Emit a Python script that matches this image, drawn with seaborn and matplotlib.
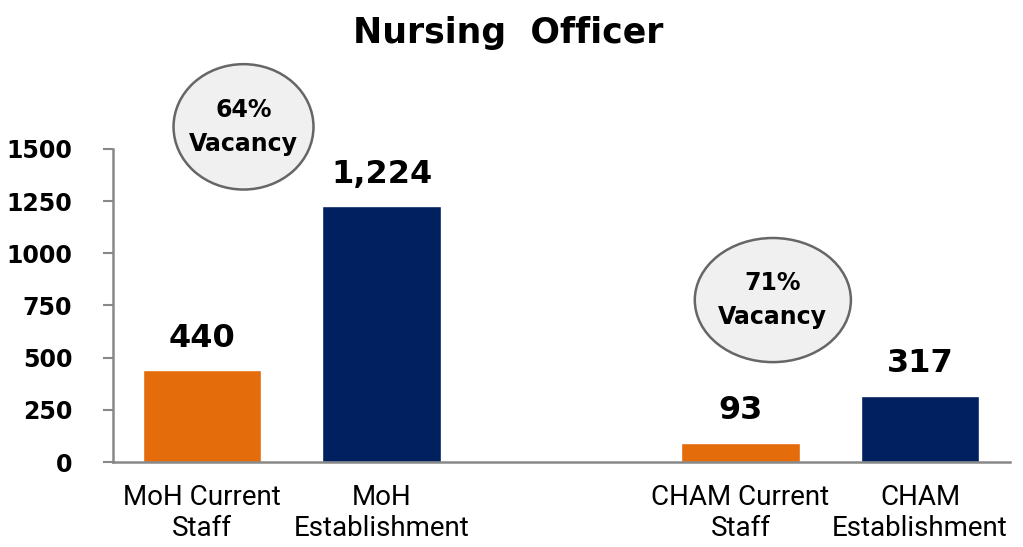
import matplotlib.pyplot as plt
import pandas as pd
import seaborn as sns
from matplotlib.patches import Ellipse

categories = ["MoH Current\nStaff", "MoH\nEstablishment", "CHAM Current\nStaff", "CHAM\nEstablishment"]
staff_values = [440, 1224, 93, 317]
kinds = ["Current", "Establishment", "Current", "Establishment"]
slot_order = ["MoH Current\nStaff", "MoH\nEstablishment", " ", "CHAM Current\nStaff", "CHAM\nEstablishment"]
vacancy_labels = ["64%\nVacancy", "71%\nVacancy"]
y_ticks = [0, 250, 500, 750, 1000, 1250, 1500]

ORANGE = "#e46c0a"
NAVY = "#002060"


def main() -> None:
    sns.set_style("white")
    plt.rcParams["font.family"] = ["DejaVu Sans"]
    plt.rcParams["text.color"] = "black"
    plt.rcParams["xtick.color"] = "black"
    plt.rcParams["ytick.color"] = "black"

    df = pd.DataFrame({"category": categories, "value": staff_values, "kind": kinds})

    fig = plt.figure(figsize=(10.23, 5.47), dpi=100)
    ax = fig.add_axes([0.110, 0.155, 0.877, 0.573])

    sns.barplot(
        data=df,
        x="category",
        y="value",
        hue="kind",
        order=slot_order,
        palette={"Current": ORANGE, "Establishment": NAVY},
        saturation=1,
        dodge=False,
        width=0.66,
        legend=False,
        ax=ax,
    )

    for cat, val in zip(categories, staff_values):
        ax.annotate(
            f"{val:,}",
            (slot_order.index(cat), val),
            xytext=(0, 12),
            textcoords="offset points",
            ha="center",
            va="bottom",
            fontsize=23,
            fontweight="bold",
            annotation_clip=False,
        )

    # vacancy bubbles
    bubbles = [(0.23, 1605, 0.78, 600), (3.18, 776, 0.87, 594)]
    for (cx, cy, w, h), label in zip(bubbles, vacancy_labels):
        ax.add_patch(Ellipse((cx, cy), w, h, facecolor="#f0f0f0", edgecolor="#666666", linewidth=1.8, clip_on=False, zorder=3))
        ax.text(cx, cy, label, ha="center", va="center", fontsize=17, fontweight="bold", linespacing=1.55, zorder=4)

    ax.set_ylim(0, 1500)
    ax.set_xlim(-0.5, 4.5)
    ax.set_yticks(y_ticks)
    ax.set_yticklabels([str(t) for t in y_ticks], fontsize=17, fontweight="bold")
    ax.set_xticks(range(len(slot_order)))
    ax.set_xticklabels(
        [c.strip() for c in slot_order],
        fontsize=20,
        family=["Roboto", "DejaVu Sans"],
        linespacing=1.15,
    )
    ax.tick_params(axis="x", length=0, pad=16)
    ax.tick_params(axis="y", length=7, width=1.5, color="#888888", left=True, pad=22)
    ax.set_xlabel("")
    ax.set_ylabel("")

    sns.despine(ax=ax)
    for side in ["left", "bottom"]:
        ax.spines[side].set_color("#888888")
        ax.spines[side].set_linewidth(1.8)

    fig.text(0.497, 0.94, "Nursing  Officer", ha="center", va="center", fontsize=25, fontweight="bold")

    fig.savefig("out.png", dpi=100)


if __name__ == "__main__":
    main()
